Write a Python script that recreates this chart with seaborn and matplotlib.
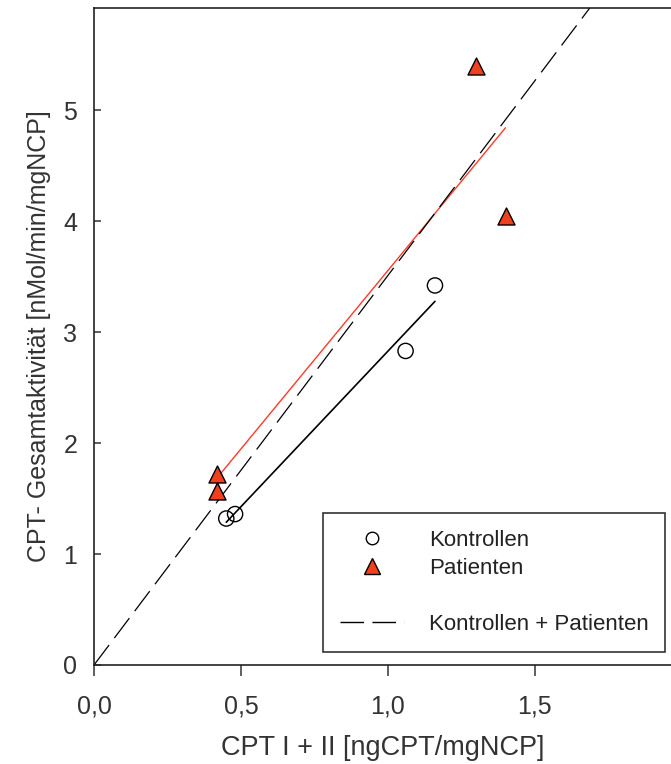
import matplotlib
matplotlib.use("Agg")
import matplotlib.pyplot as plt
import matplotlib.ticker as mticker
from matplotlib.lines import Line2D
import pandas as pd
import seaborn as sns

# data
kontrollen_x = [0.45, 0.48, 1.06, 1.16]
kontrollen_y = [1.32, 1.36, 2.83, 3.42]
patienten_x = [0.42, 0.42, 1.30, 1.40]
patienten_y = [1.72, 1.57, 5.40, 4.05]
gesamt_slope = 3.51  # Kontrollen + Patienten, line through origin

x_ticks = [0.0, 0.5, 1.0, 1.5]
y_ticks = [0, 1, 2, 3, 4, 5]

RED_FILL = "#f0401e"
RED_LINE = "#ff3a2a"
TEXT = "#333333"

sns.set_style("ticks")
plt.rcParams["font.family"] = ["Liberation Sans", "DejaVu Sans"]

df_k = pd.DataFrame({"x": kontrollen_x, "y": kontrollen_y})
df_p = pd.DataFrame({"x": patienten_x, "y": patienten_y})

fig = plt.figure(figsize=(6.71, 7.64), dpi=100)
ax = fig.add_axes([94 / 671, 99 / 764, 1 - 94 / 671, 657 / 764])

# regression lines per group
sns.regplot(data=df_k, x="x", y="y", scatter=False, ci=None, ax=ax,
            line_kws={"color": "black", "lw": 1.2})
sns.regplot(data=df_p, x="x", y="y", scatter=False, ci=None, ax=ax,
            line_kws={"color": RED_LINE, "lw": 1.0})
ax.axline((0, 0), slope=gesamt_slope, color="black", lw=0.9,
          dashes=(20, 7))

sns.scatterplot(data=df_k, x="x", y="y", ax=ax, marker="o", s=120,
                facecolor="none", edgecolor="black", linewidth=1.0, zorder=5)
sns.scatterplot(data=df_p, x="x", y="y", ax=ax, marker="^", s=150,
                color=RED_FILL, edgecolor="black", linewidth=1.0, zorder=5)

ax.set_xlim(0, 1.963)
ax.set_ylim(0, 5.92)
ax.set_xticks(x_ticks)
ax.set_yticks(y_ticks)
ax.xaxis.set_major_formatter(mticker.FuncFormatter(lambda v, p: f"{v:.1f}".replace(".", ",")))
ax.yaxis.set_major_formatter(mticker.FuncFormatter(lambda v, p: f"{v:.0f}"))
ax.tick_params(axis="x", direction="out", length=8, width=1.1, labelsize=18,
               pad=13, colors=TEXT, labelcolor=TEXT)
ax.tick_params(axis="y", direction="in", length=5, width=1.1, labelsize=18,
               pad=12, colors=TEXT, labelcolor=TEXT)
for side in ["left", "bottom", "top"]:
    ax.spines[side].set_linewidth(1.2)
    ax.spines[side].set_color("#222222")
ax.spines["right"].set_visible(False)

ax.set_xlabel("CPT I + II [ngCPT/mgNCP]", fontsize=19.5, color=TEXT, labelpad=12)
ax.set_ylabel("CPT- Gesamtaktivität [nMol/min/mgNCP]", fontsize=18,
              color=TEXT, labelpad=9)

handles = [
    Line2D([], [], marker="o", ls="none", markersize=9, markerfacecolor="none",
           markeredgecolor="black", markeredgewidth=1.0),
    Line2D([], [], marker="^", ls="none", markersize=11, markerfacecolor=RED_FILL,
           markeredgecolor="black", markeredgewidth=1.0),
    Line2D([], [], ls="none"),
    Line2D([], [], color="black", lw=1.0, dashes=(17, 6)),
]
labels = ["Kontrollen", "Patienten", " ", "Kontrollen + Patienten"]
leg = ax.legend(handles, labels, loc="lower right", bbox_to_anchor=(0.99, 0.02),
                fontsize=16, frameon=True, fancybox=False, handlelength=2.9,
                handletextpad=1.1, borderpad=0.75, labelspacing=0.32,
                borderaxespad=0)
leg.get_frame().set_edgecolor("black")
leg.get_frame().set_linewidth(1.2)
for t in leg.get_texts():
    t.set_color("#222222")

fig.savefig("out.png", dpi=100)
